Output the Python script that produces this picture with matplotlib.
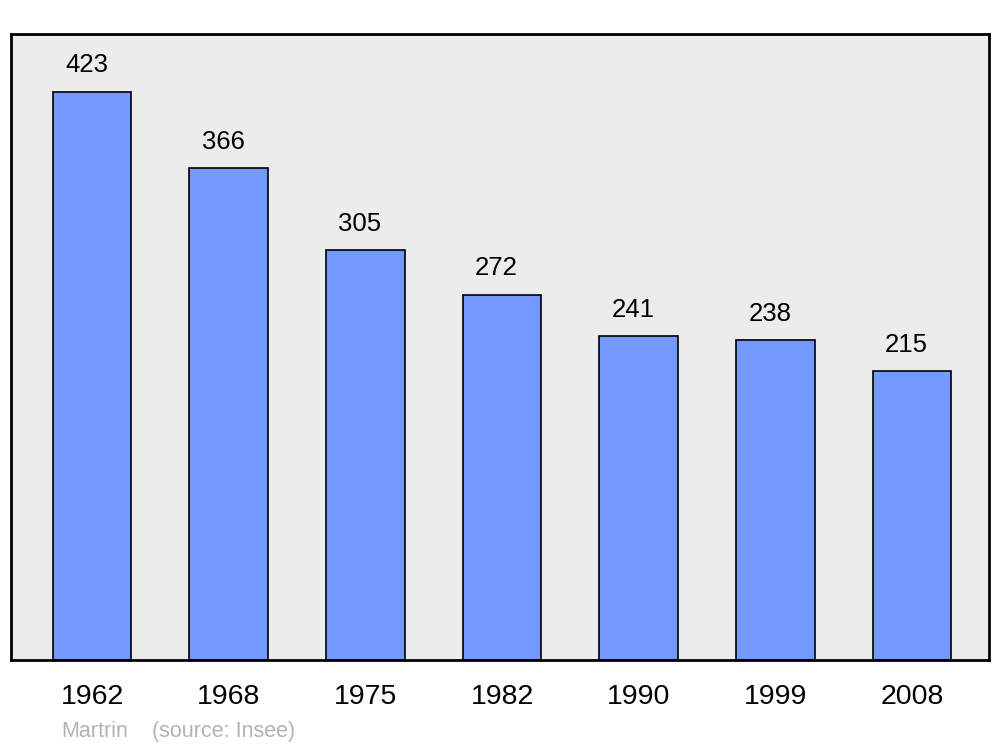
import matplotlib.pyplot as plt

plt.rcParams['font.family'] = ['Liberation Sans', 'DejaVu Sans']

# Population data
years = ['1962', '1968', '1975', '1982', '1990', '1999', '2008']
population = [423, 366, 305, 272, 241, 238, 215]

fig = plt.figure(figsize=(10, 7.47), dpi=100)
ax = fig.add_axes([0.011, 0.1165, 0.978, 0.838])
ax.set_facecolor('#ececec')

x = list(range(len(years)))
ax.bar(x, population, width=0.575, color='#7399ff', edgecolor='black', linewidth=1.2, zorder=2)

# value labels above the bars
for xi, val in zip(x, population):
    ax.annotate(str(val), (xi, val), xytext=(-4, 19), textcoords='offset points',
                ha='center', va='center', fontsize=18.5)

ax.set_xlim(-0.593, 6.563)
ax.set_ylim(0, 466)
ax.set_xticks(x)
ax.set_xticklabels(years, fontsize=20.5)
ax.tick_params(axis='x', length=0, pad=17)
ax.set_yticks([])
for s in ax.spines.values():
    s.set_linewidth(2)

fig.text(0.061, 1 - 737 / 747, 'Martrin', color='#b3b3b3', fontsize=15.5, va='baseline')
fig.text(0.152, 1 - 737 / 747, '(source: Insee)', color='#b3b3b3', fontsize=15.5, va='baseline')

plt.savefig('out.png', dpi=100)
